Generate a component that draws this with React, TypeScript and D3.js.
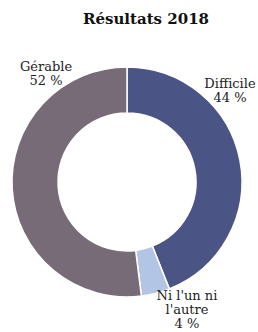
import React from 'react';
import * as d3 from 'd3';

const categories = ['Difficile', "Ni l'un ni l'autre", 'Gérable'];
const values = [44, 4, 52];
const colors = ['#4b5585', '#b3c5e5', '#776b77'];
const labelLines = [['Difficile', '44 %'], ["Ni l'un ni", "l'autre", '4 %'], ['Gérable', '52 %']];
const labelPos = [
  [230, 88],
  [187, 300],
  [46, 71],
];

const width = 258;
const height = 332;

export default function App() {
  const cx = 127;
  const cy = 182;
  const outer = 115;
  const inner = 69;

  const pie = d3.pie<number>().sort(null).value((d) => d);
  const arcs = pie(values);
  const arc = d3.arc<d3.PieArcDatum<number>>().innerRadius(inner).outerRadius(outer);

  return (
    <svg
      width={width}
      height={height}
      style={{ position: 'absolute', left: 0, top: 0, background: '#fff' }}
      fontFamily="'DejaVu Serif', serif"
    >
      <text x={146} y={24} textAnchor="middle" fontSize={15} fontWeight="bold" fill="#111">
        Résultats 2018
      </text>
      <g transform={`translate(${cx}, ${cy})`}>
        {arcs.map((a, i) => (
          <path key={categories[i]} d={arc(a) || ''} fill={colors[i]} stroke="#fff" strokeWidth={1.5} />
        ))}
      </g>
      {labelLines.map((lines, i) => (
        <text key={i} textAnchor="middle" fontSize={13} fill="#222">
          {lines.map((l, j) => (
            <tspan key={j} x={labelPos[i][0]} y={labelPos[i][1] + j * 14}>
              {l}
            </tspan>
          ))}
        </text>
      ))}
    </svg>
  );
}
